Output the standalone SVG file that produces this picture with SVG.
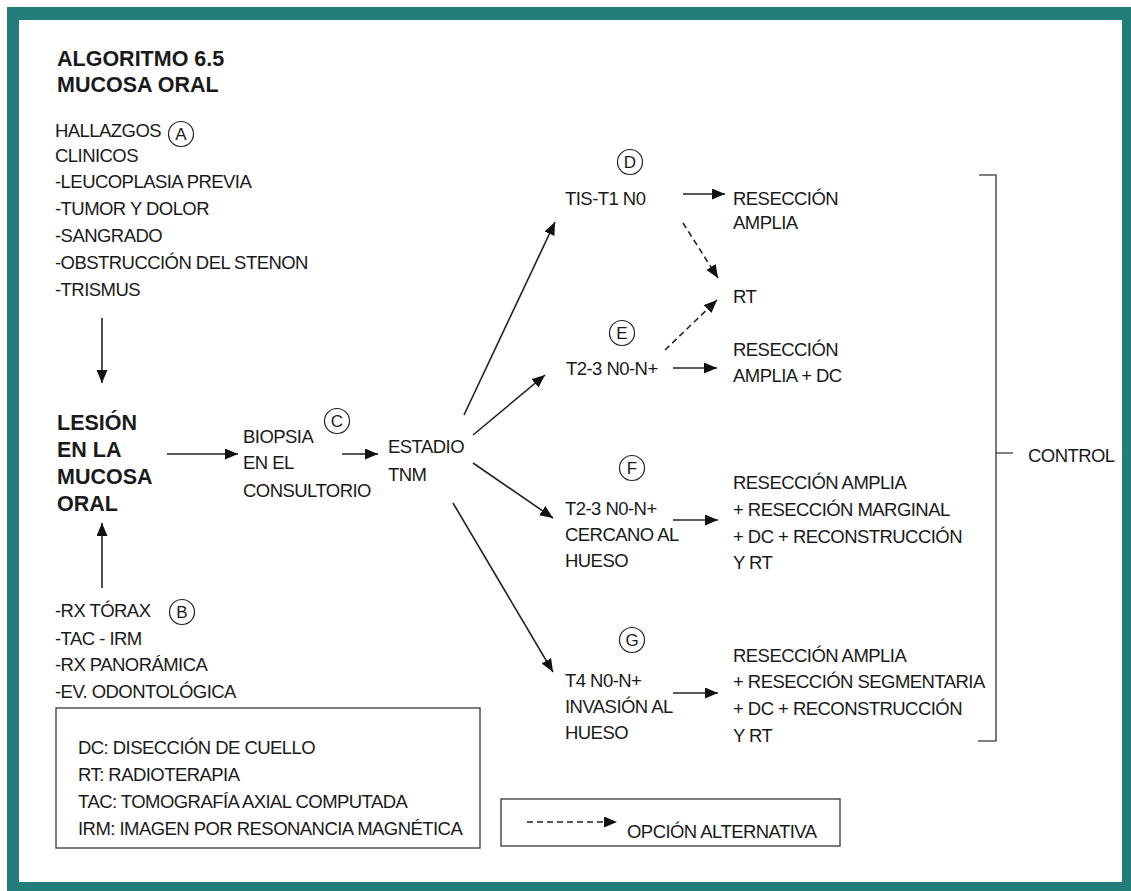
<svg xmlns="http://www.w3.org/2000/svg" width="1131" height="891" viewBox="0 0 1131 891">
<defs>
<style>
text{font-family:"Liberation Sans",Arial,sans-serif;fill:#1a1a1a;font-size:18.5px;letter-spacing:-0.55px}
.b{font-weight:bold;font-size:21.5px;letter-spacing:0}
.c{font-size:17px;text-anchor:middle;letter-spacing:0}
.ln{stroke:#222;stroke-width:1.6;fill:none}
.dash{stroke:#222;stroke-width:1.6;fill:none;stroke-dasharray:6 4}
.circ{fill:none;stroke:#222;stroke-width:1.2}
.box{fill:none;stroke:#444;stroke-width:1.4}
.br{fill:none;stroke:#555;stroke-width:1.6}
</style>
<marker id="ah" markerUnits="userSpaceOnUse" markerWidth="15" markerHeight="13" refX="13" refY="5.5" orient="auto">
<path d="M0,0 L13,5.5 L0,11 z" fill="#111"/>
</marker>
</defs>
<rect x="7" y="7" width="1124" height="884" fill="#237e7b"/>
<rect x="19" y="20" width="1103" height="862" fill="#ffffff"/>

<g id="title">
<text class="b" x="57" y="66">ALGORITMO 6.5</text>
<text class="b" x="57" y="92">MUCOSA ORAL</text>
</g>

<g id="hallazgos">
<text x="55" y="137">HALLAZGOS</text>
<text x="55" y="162">CLINICOS</text>
<text x="55" y="188">-LEUCOPLASIA PREVIA</text>
<text x="55" y="215">-TUMOR Y DOLOR</text>
<text x="55" y="242">-SANGRADO</text>
<text x="55" y="269">-OBSTRUCCIÓN DEL STENON</text>
<text x="55" y="296">-TRISMUS</text>
<circle class="circ" cx="181" cy="134" r="12.5"/>
<text class="c" x="181" y="140">A</text>
</g>

<g id="lesion">
<text class="b" x="57" y="430">LESIÓN</text>
<text class="b" x="57" y="457">EN LA</text>
<text class="b" x="57" y="484">MUCOSA</text>
<text class="b" x="57" y="511">ORAL</text>
</g>

<g id="estudios">
<text x="55" y="617">-RX TÓRAX</text>
<text x="55" y="645">-TAC - IRM</text>
<text x="55" y="671">-RX PANORÁMICA</text>
<text x="55" y="698">-EV. ODONTOLÓGICA</text>
<circle class="circ" cx="182" cy="612" r="12.5"/>
<text class="c" x="182" y="618">B</text>
</g>

<g id="biopsia">
<text x="243" y="443">BIOPSIA</text>
<text x="243" y="469">EN EL</text>
<text x="243" y="497">CONSULTORIO</text>
<circle class="circ" cx="337" cy="421" r="12.5"/>
<text class="c" x="337" y="427">C</text>
</g>

<g id="estadio">
<text x="388" y="453">ESTADIO</text>
<text x="388" y="481">TNM</text>
</g>

<g id="tis">
<circle class="circ" cx="630" cy="162" r="12.5"/>
<text class="c" x="630" y="168">D</text>
<text x="565" y="205">TIS-T1 N0</text>
</g>

<g id="t23">
<circle class="circ" cx="622" cy="333" r="12.5"/>
<text class="c" x="622" y="339">E</text>
<text x="566" y="375">T2-3 N0-N+</text>
</g>

<g id="t23hueso">
<circle class="circ" cx="632" cy="468" r="12.5"/>
<text class="c" x="632" y="474">F</text>
<text x="565" y="515">T2-3 N0-N+</text>
<text x="565" y="541">CERCANO AL</text>
<text x="565" y="567">HUESO</text>
</g>

<g id="t4">
<circle class="circ" cx="632" cy="640" r="12.5"/>
<text class="c" x="632" y="646">G</text>
<text x="565" y="687">T4 N0-N+</text>
<text x="565" y="713">INVASIÓN AL</text>
<text x="565" y="739">HUESO</text>
</g>

<g id="res1">
<text x="733" y="205">RESECCIÓN</text>
<text x="733" y="229">AMPLIA</text>
</g>

<g id="rt">
<text x="733" y="303">RT</text>
</g>

<g id="res2">
<text x="733" y="356">RESECCIÓN</text>
<text x="733" y="382">AMPLIA + DC</text>
</g>

<g id="res3">
<text x="733" y="489">RESECCIÓN AMPLIA</text>
<text x="733" y="516">+ RESECCIÓN MARGINAL</text>
<text x="733" y="543">+ DC + RECONSTRUCCIÓN</text>
<text x="733" y="569">Y RT</text>
</g>

<g id="res4">
<text x="733" y="662">RESECCIÓN AMPLIA</text>
<text x="733" y="688">+ RESECCIÓN SEGMENTARIA</text>
<text x="733" y="715">+ DC + RECONSTRUCCIÓN</text>
<text x="733" y="742">Y RT</text>
</g>

<g id="control">
<path class="br" d="M979,175 H996 V741 H978 M996,453 H1013"/>
<text x="1028" y="462">CONTROL</text>
</g>

<g id="connectors">
<line class="ln" x1="102" y1="318" x2="102" y2="383" marker-end="url(#ah)"/>
<line class="ln" x1="102" y1="588" x2="102" y2="523" marker-end="url(#ah)"/>
<line class="ln" x1="167" y1="454" x2="238" y2="454" marker-end="url(#ah)"/>
<line class="ln" x1="342" y1="454" x2="378" y2="454" marker-end="url(#ah)"/>
<line class="ln" x1="464" y1="415" x2="555" y2="222" marker-end="url(#ah)"/>
<line class="ln" x1="473" y1="435" x2="545" y2="375" marker-end="url(#ah)"/>
<line class="ln" x1="473" y1="463" x2="553" y2="518" marker-end="url(#ah)"/>
<line class="ln" x1="453" y1="503" x2="553" y2="672" marker-end="url(#ah)"/>
<line class="ln" x1="683" y1="194" x2="725" y2="194" marker-end="url(#ah)"/>
<line class="dash" x1="683" y1="223" x2="718" y2="278" marker-end="url(#ah)"/>
<line class="dash" x1="665" y1="350" x2="717" y2="300" marker-end="url(#ah)"/>
<line class="ln" x1="673" y1="368" x2="717" y2="368" marker-end="url(#ah)"/>
<line class="ln" x1="673" y1="520" x2="718" y2="520" marker-end="url(#ah)"/>
<line class="ln" x1="673" y1="693" x2="718" y2="693" marker-end="url(#ah)"/>
</g>

<g id="legend">
<rect class="box" x="56" y="708" width="424" height="140"/>
<text x="78" y="754">DC: DISECCIÓN DE CUELLO</text>
<text x="78" y="781">RT: RADIOTERAPIA</text>
<text x="78" y="808">TAC: TOMOGRAFÍA AXIAL COMPUTADA</text>
<text x="78" y="835">IRM: IMAGEN POR RESONANCIA MAGNÉTICA</text>
</g>

<g id="alt-legend">
<rect class="box" x="501" y="799" width="339" height="47"/>
<line class="dash" x1="527" y1="822" x2="617" y2="822" marker-end="url(#ah)"/>
<text x="627" y="838">OPCIÓN ALTERNATIVA</text>
</g>
</svg>
